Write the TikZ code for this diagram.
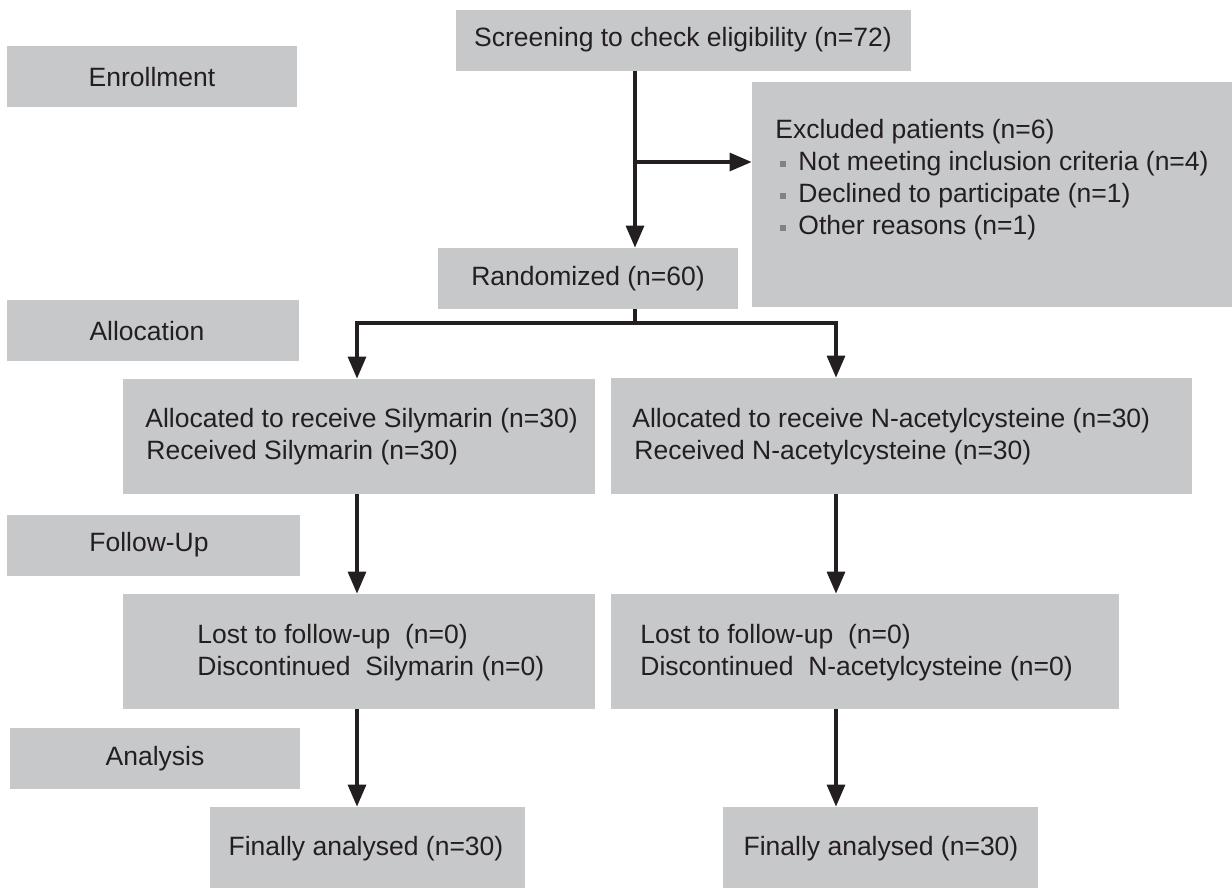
\documentclass[tikz,border=0pt]{standalone}
\usepackage{fontspec}
\setmainfont{Liberation Sans}
\usetikzlibrary{arrows.meta,fit,calc}
\definecolor{boxgray}{HTML}{C7C8CA}
\definecolor{ink}{HTML}{231F20}
\definecolor{bulletgray}{HTML}{808285}
\begin{document}
\begin{tikzpicture}[x=0.5pt,y=-0.5pt,
  font=\fontsize{13.25pt}{16pt}\selectfont,
  box/.style={fill=boxgray, draw=none, inner sep=0pt},
  ctr/.style={inner sep=0pt, text=ink, anchor=center},
  txt/.style={inner sep=0pt, text=ink, align=left, anchor=west},
  bul/.style={fill=bulletgray, draw=none, inner sep=0pt, minimum size=3pt},
  arr/.style={draw=ink, line width=1.6pt, -{Triangle[length=11pt,width=9pt]}},
  ln/.style={draw=ink, line width=1.6pt}]
\useasboundingbox (0,0) rectangle (1232,888);

% stage boxes
\node[box, fit={(7,46) (297,107)}] (enr) {};
\node[box, fit={(7,300) (299,361)}] (alc) {};
\node[box, fit={(7,515) (300,576)}] (fol) {};
\node[box, fit={(10,728) (300,789)}] (ana) {};
\node[ctr] (enrt) at (152,77) {Enrollment};
\node[ctr] (alct) at (147,331) {Allocation};
\node[ctr] (folt) at (149,545) {Follow-Up};
\node[ctr] (anat) at (155,759) {Analysis};

% flow boxes
\node[box, fit={(456,10) (911,71)}] (scr) {};
\node[box, fit={(752,82) (1232,307)}] (exc) {};
\node[box, fit={(438,248) (738,309)}] (ran) {};
\node[box, fit={(123,379) (595,494)}] (sa) {};
\node[box, fit={(611,378) (1192,494)}] (na) {};
\node[box, fit={(123,594) (595,709)}] (sl) {};
\node[box, fit={(611,594) (1119,709)}] (nl) {};
\node[box, fit={(210,807) (525,888)}] (sf) {};
\node[box, fit={(723,807) (1038,888)}] (nf) {};

% texts
\node[ctr] (scrt) at (683,40) {Screening to check eligibility (n=72)};
\node[ctr] (rant) at (588,279) {Randomized (n=60)};
\node[ctr] (sft) at (366,849) {Finally analysed (n=30)};
\node[ctr] (nft) at (881,849) {Finally analysed (n=30)};

\node[txt] (exc0) at (775,132) {Excluded patients (n=6)};
\node[bul] (b1) at (783,164) {};
\node[bul] (b2) at (783,196) {};
\node[bul] (b3) at (783,228) {};
\node[txt] (exc1) at (798,164) {Not meeting inclusion criteria (n=4)};
\node[txt] (exc2) at (798,196) {Declined to participate (n=1)};
\node[txt] (exc3) at (798,228) {Other reasons (n=1)};

\node[txt] (sa1) at (145,421) {Allocated to receive Silymarin (n=30)};
\node[txt] (sa2) at (146,453) {Received Silymarin (n=30)};
\node[txt] (na1) at (632,421) {Allocated to receive N-acetylcysteine (n=30)};
\node[txt] (na2) at (634,453) {Received N-acetylcysteine (n=30)};

\node[txt] (sl1) at (197,637) {Lost to follow-up\ \ (n=0)};
\node[txt] (sl2) at (197,669) {Discontinued\ \ Silymarin (n=0)};
\node[txt] (nl1) at (640,637) {Lost to follow-up\ \ (n=0)};
\node[txt] (nl2) at (640,669) {Discontinued\ \ N-acetylcysteine (n=0)};

% connectors
\coordinate (stem) at (635,0);
\coordinate (lx) at (357,0);
\coordinate (rx) at (836,0);
\coordinate (br) at (635,162);
\coordinate (split) at (635,323);

\draw[arr] (scr.south -| stem) -- (ran.north -| stem);
\draw[arr] (br) -- (br -| exc.west);
\draw[ln] (ran.south -| stem) -- (split);
\draw[arr] (split) -| (sa.north -| lx);
\draw[arr] (split) -| (na.north -| rx);
\draw[arr] (sa.south -| lx) -- (sl.north -| lx);
\draw[arr] (na.south -| rx) -- (nl.north -| rx);
\draw[arr] (sl.south -| lx) -- (sf.north -| lx);
\draw[arr] (nl.south -| rx) -- (nf.north -| rx);
\end{tikzpicture}
\end{document}
